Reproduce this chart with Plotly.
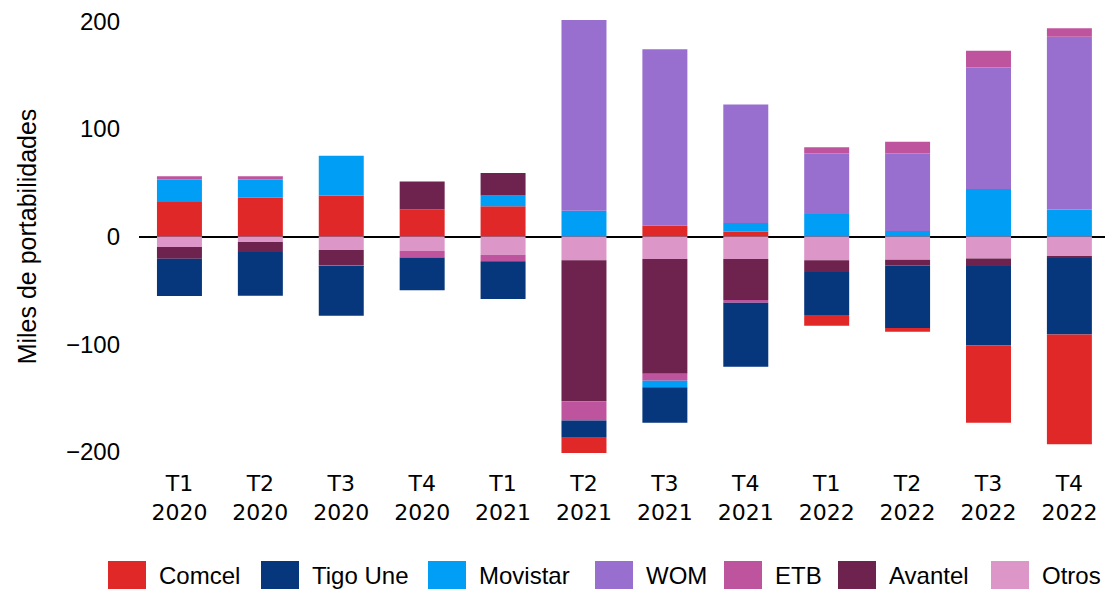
import numpy as np
import plotly.graph_objects as go

quarters = ["T1<br>2020", "T2<br>2020", "T3<br>2020", "T4<br>2020",
            "T1<br>2021", "T2<br>2021", "T3<br>2021", "T4<br>2021",
            "T1<br>2022", "T2<br>2022", "T3<br>2022", "T4<br>2022"]

comcel   = [32, 36, 38, 25, 28, -14, 10, 4.5, -10, -3.5, -72, -102]
tigo_une = [-34.5, -40.5, -46, -30.5, -35, -16, -33, -59.5, -40, -58, -73.5, -71]
movistar = [21, 17, 37, 0, 10, 24, -6, 8, 21, 5, 44, 25]
wom      = [0, 0, 0, 0, 0, 177, 164, 110, 56, 72, 113, 160.5]
etb      = [3, 3, -1, -6, -6, -18, -6.5, -2.5, 6, 11, 15.5, 8]
avantel  = [-11, -9.5, -14, 26, 21, -131, -106.5, -38, -11, -5.5, -7, -1.5]
otros    = [-9.7, -5, -12.5, -13.5, -17, -22, -21, -21, -22, -21.5, -20.5, -18.5]

series = [
    ("Comcel", comcel, "#E12828"),
    ("Tigo Une", tigo_une, "#06367C"),
    ("Movistar", movistar, "#009FF5"),
    ("WOM", wom, "#986ECE"),
    ("ETB", etb, "#BF549E"),
    ("Avantel", avantel, "#6E224E"),
    ("Otros", otros, "#DC96C8"),
]

W, H = 1105, 592
ML, MR, MT, MB = 139, 0, 5, 124
plot_w = W - ML - MR
plot_h = H - MT - MB

fig = go.Figure()
# positive parts stack outward from zero in legend order
for name, vals, col in series:
    v = np.array(vals, dtype=float)
    fig.add_trace(go.Bar(x=quarters, y=np.where(v > 0, v, 0), name=name,
                         showlegend=False,
                         marker=dict(color=col, line=dict(width=0))))
# negative parts stack outward from zero in reverse order
for name, vals, col in reversed(series):
    v = np.array(vals, dtype=float)
    fig.add_trace(go.Bar(x=quarters, y=np.where(v < 0, v, 0), name=name,
                         showlegend=False,
                         marker=dict(color=col, line=dict(width=0))))

# custom legend (large swatches) below the plot
legend_left_px = [108, 261, 428, 595, 724, 838, 991]
sw_w, sw_top, sw_bot, txt_gap = 38, 561, 589, 49
shapes, annotations = [], []
def px_x(px):
    return (px - ML) / plot_w
def px_y(py):
    return (H - MB - py) / plot_h
for (name, _, col), lx in zip(series, legend_left_px):
    shapes.append(dict(type="rect", xref="paper", yref="paper",
                       x0=px_x(lx), x1=px_x(lx + sw_w),
                       y0=px_y(sw_bot), y1=px_y(sw_top),
                       fillcolor=col, line=dict(width=0)))
    annotations.append(dict(text=name, xref="paper", yref="paper",
                            x=px_x(lx + txt_gap), y=px_y((sw_top + sw_bot) / 2),
                            xanchor="left", yanchor="middle", showarrow=False,
                            font=dict(family="Liberation Sans, Arial", size=24, color="black")))

fig.update_layout(
    barmode="relative",
    bargap=0.444,
    width=W, height=H,
    margin=dict(l=ML, r=MR, t=MT, b=MB, autoexpand=False),
    plot_bgcolor="white", paper_bgcolor="white",
    font=dict(family="DejaVu Sans, Liberation Sans, Arial", size=22, color="black"),
    showlegend=False,
    shapes=shapes,
    annotations=annotations,
    xaxis=dict(showgrid=False, showline=False, ticks="", range=[-0.5, 11.44],
               tickfont=dict(family="DejaVu Sans", size=22)),
    yaxis=dict(range=[-215, 215], tickvals=[-200, -100, 0, 100, 200],
               showgrid=False, showline=False, ticks="",
               zeroline=True, zerolinecolor="black", zerolinewidth=2,
               tickfont=dict(family="Liberation Sans, Arial", size=24),
               ticklabelstandoff=18,
               title=dict(text="Miles de portabilidades",
                          font=dict(family="Liberation Sans, Arial", size=25),
                          standoff=22)),
)

fig.write_html("out.html",
               config={"displayModeBar": False},
               post_script="document.body.style.margin='0px';"
                           "document.documentElement.style.overflow='hidden';")
